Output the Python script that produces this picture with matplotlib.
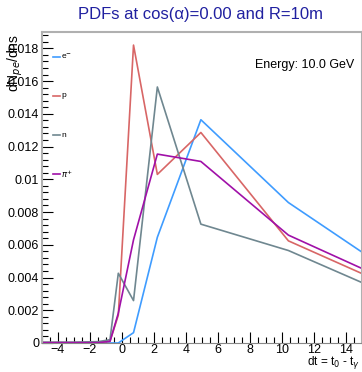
import numpy as np
import matplotlib
matplotlib.use('Agg')
import matplotlib.pyplot as plt
from matplotlib.ticker import MultipleLocator, AutoMinorLocator

# time bin centres (ns)
dt = [-5.0, -3.0, -1.5, -0.75, -0.23, 0.72, 2.21, 4.93, 10.4, 15.0]

# PDFs per particle type
pdf_e = [0.0, 0.0, 0.0, 0.0, 0.0, 0.00063, 0.00646, 0.01364, 0.00858, 0.00555]
pdf_p = [0.00002, 0.00002, 0.00003, 0.0001, 0.0017, 0.0182, 0.0103, 0.01286, 0.00624, 0.00424]
pdf_n = [0.00005, 0.00005, 0.00008, 0.0002, 0.00426, 0.00259, 0.01564, 0.00726, 0.00565, 0.00369]
pdf_pi = [0.00002, 0.00002, 0.00002, 0.0001, 0.00182, 0.0063, 0.01154, 0.01109, 0.00659, 0.00455]

labels = ['e$^{-}$', 'p', 'n', '$\\pi^{+}$']
colors = ['#3f9cff', '#d86666', '#6f8790', '#a010a8']

plt.rcParams['font.family'] = ['Liberation Sans', 'DejaVu Sans']

fig = plt.figure(figsize=(3.62, 3.72), dpi=100)
ax = fig.add_axes([0.116, 0.078, 0.884, 0.836])

series = [pdf_e, pdf_p, pdf_n, pdf_pi]
for vals, lab, col in zip(series, labels, colors):
    ax.plot(dt, vals, color=col, lw=1.2, label=lab)

ax.set_xlim(-5, 15)
ax.set_ylim(0, 0.019)

ax.xaxis.set_major_locator(MultipleLocator(2))
ax.xaxis.set_minor_locator(AutoMinorLocator(4))
ax.yaxis.set_major_locator(MultipleLocator(0.002))
ax.yaxis.set_minor_locator(AutoMinorLocator(5))
ax.set_yticks(np.arange(0, 0.0181, 0.002))
ax.set_yticklabels(['0', '0.002', '0.004', '0.006', '0.008', '0.01',
                    '0.012', '0.014', '0.016', '0.018'])
ax.tick_params(which='major', direction='in', length=8, width=0.8, labelsize=9,
               top=False, right=False, pad=2)
ax.tick_params(axis='x', which='major', pad=1)
ax.tick_params(which='minor', direction='in', length=4, width=0.8, top=False, right=False)

for side in ['left', 'top', 'right']:
    ax.spines[side].set_color('#b0b0b0')
    ax.spines[side].set_linewidth(1.5)
ax.spines['bottom'].set_color('#888888')

fig.text(0.555, 0.962, 'PDFs at cos(\u03b1)=0.00 and R=10m', color='#2020a0',
         fontsize=12, ha='center', va='center')
ax.text(0.82, 0.895, 'Energy: 10.0 GeV', transform=ax.transAxes, fontsize=9,
        ha='center', va='center')
# ROOT-style y title sits over the top tick label, as in the original
fig.text(0.043, 0.91, 'dN$_{pe}$/dns', rotation=90, fontsize=10, ha='center', va='top')
fig.text(0.995, 0.002, 'dt = t$_{0}$ - t$_{\\gamma}$', fontsize=8.5, ha='right', va='bottom')

# legend entries spread vertically like the ROOT box
leg_y = [0.0175, 0.0151, 0.0127, 0.0103]
for yv, lab, col in zip(leg_y, labels, colors):
    ax.plot([-4.3, -3.9], [yv, yv], color=col, lw=1.2, clip_on=False)
    ax.text(-3.8, yv, lab, fontsize=6, va='center', ha='left')

fig.savefig('out.png', dpi=100)
